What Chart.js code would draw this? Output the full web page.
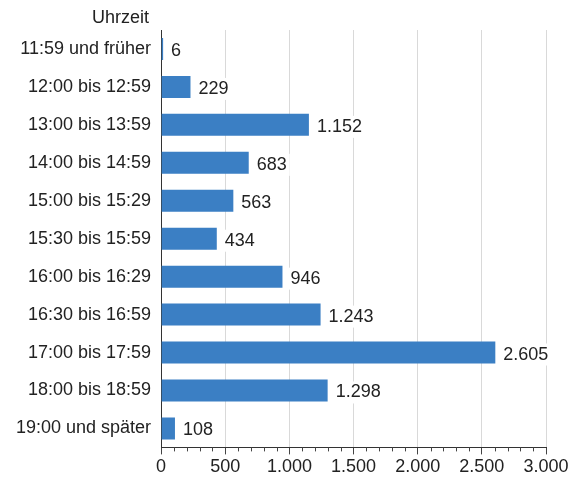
<!DOCTYPE html>
<html><head><meta charset="utf-8">
<script src="https://cdn.jsdelivr.net/npm/chart.js@4"></script>
<style>html,body{margin:0;padding:0;background:#fff}#wrap{width:579px;height:480px}</style>
</head><body><div id="wrap"><canvas id="c" width="579" height="480"></canvas></div>
<script>
const categories = ["11:59 und früher","12:00 bis 12:59","13:00 bis 13:59","14:00 bis 14:59","15:00 bis 15:29","15:30 bis 15:59","16:00 bis 16:29","16:30 bis 16:59","17:00 bis 17:59","18:00 bis 18:59","19:00 und später"];
const values = [6,229,1152,683,563,434,946,1243,2605,1298,108];
const axisTitle = "Uhrzeit";
const xMin = 0, xMax = 3000, xStep = 500, minorStep = 100;

const fmt = v => Number(v).toLocaleString('de-DE');
const FONT = '"Liberation Sans", Arial, sans-serif';
const FS = 18;

const extras = {
  id: 'extras',
  afterDatasetsDraw(chart) {
    const ctx = chart.ctx;
    const meta = chart.getDatasetMeta(0);
    ctx.save();
    ctx.font = FS + 'px ' + FONT;
    ctx.textBaseline = 'middle';
    ctx.textAlign = 'left';
    meta.data.forEach((bar, i) => {
      const txt = fmt(values[i]);
      const x = Math.max(bar.x, bar.base + 1) + 8, y = bar.y + 2;
      const w = ctx.measureText(txt).width;
      ctx.fillStyle = '#fff';
      ctx.fillRect(x - 3, y - 11, w + 6, 22);
      ctx.fillStyle = '#222';
      ctx.fillText(txt, x, y);
    });
    // minor ticks
    const xs = chart.scales.x;
    const yb = chart.chartArea.bottom;
    ctx.strokeStyle = '#444';
    ctx.lineWidth = 1;
    for (let v = xMin; v <= xMax; v += minorStep) {
      if (v % xStep === 0) continue;
      const px = Math.round(xs.getPixelForValue(v)) + 0.5;
      ctx.beginPath(); ctx.moveTo(px, yb); ctx.lineTo(px, yb + 4); ctx.stroke();
    }
    // axis title
    const ys = chart.scales.y;
    ctx.textAlign = 'right';
    ctx.textBaseline = 'middle';
    ctx.fillStyle = '#222';
    ctx.fillText(axisTitle, ys.right - 12, 18);
    ctx.restore();
  }
};

new Chart(document.getElementById('c'), {
  type: 'bar',
  data: { labels: categories, datasets: [{ data: values, backgroundColor: '#3b7fc4', borderWidth: 0, barPercentage: 0.58, categoryPercentage: 1.0, minBarLength: 2 }] },
  options: {
    indexAxis: 'y',
    responsive: false,
    animation: false,
    devicePixelRatio: 1,
    layout: { padding: { top: 30, right: 33, left: 6, bottom: 0 } },
    plugins: { legend: { display: false }, tooltip: { enabled: false } },
    scales: {
      x: {
        min: xMin, max: xMax,
        ticks: { stepSize: xStep, callback: v => fmt(v), color: '#222', font: { family: FONT, size: FS }, padding: 2, maxRotation: 0 },
        grid: { color: '#d9d9d9', tickColor: '#444', tickLength: 7, drawTicks: true },
        border: { color: '#333', width: 1 }
      },
      y: {
        ticks: { color: '#222', font: { family: FONT, size: FS }, padding: 10 },
        grid: { display: false, drawTicks: false },
        border: { color: '#333', width: 1 }
      }
    }
  },
  plugins: [extras]
});
</script></body></html>
